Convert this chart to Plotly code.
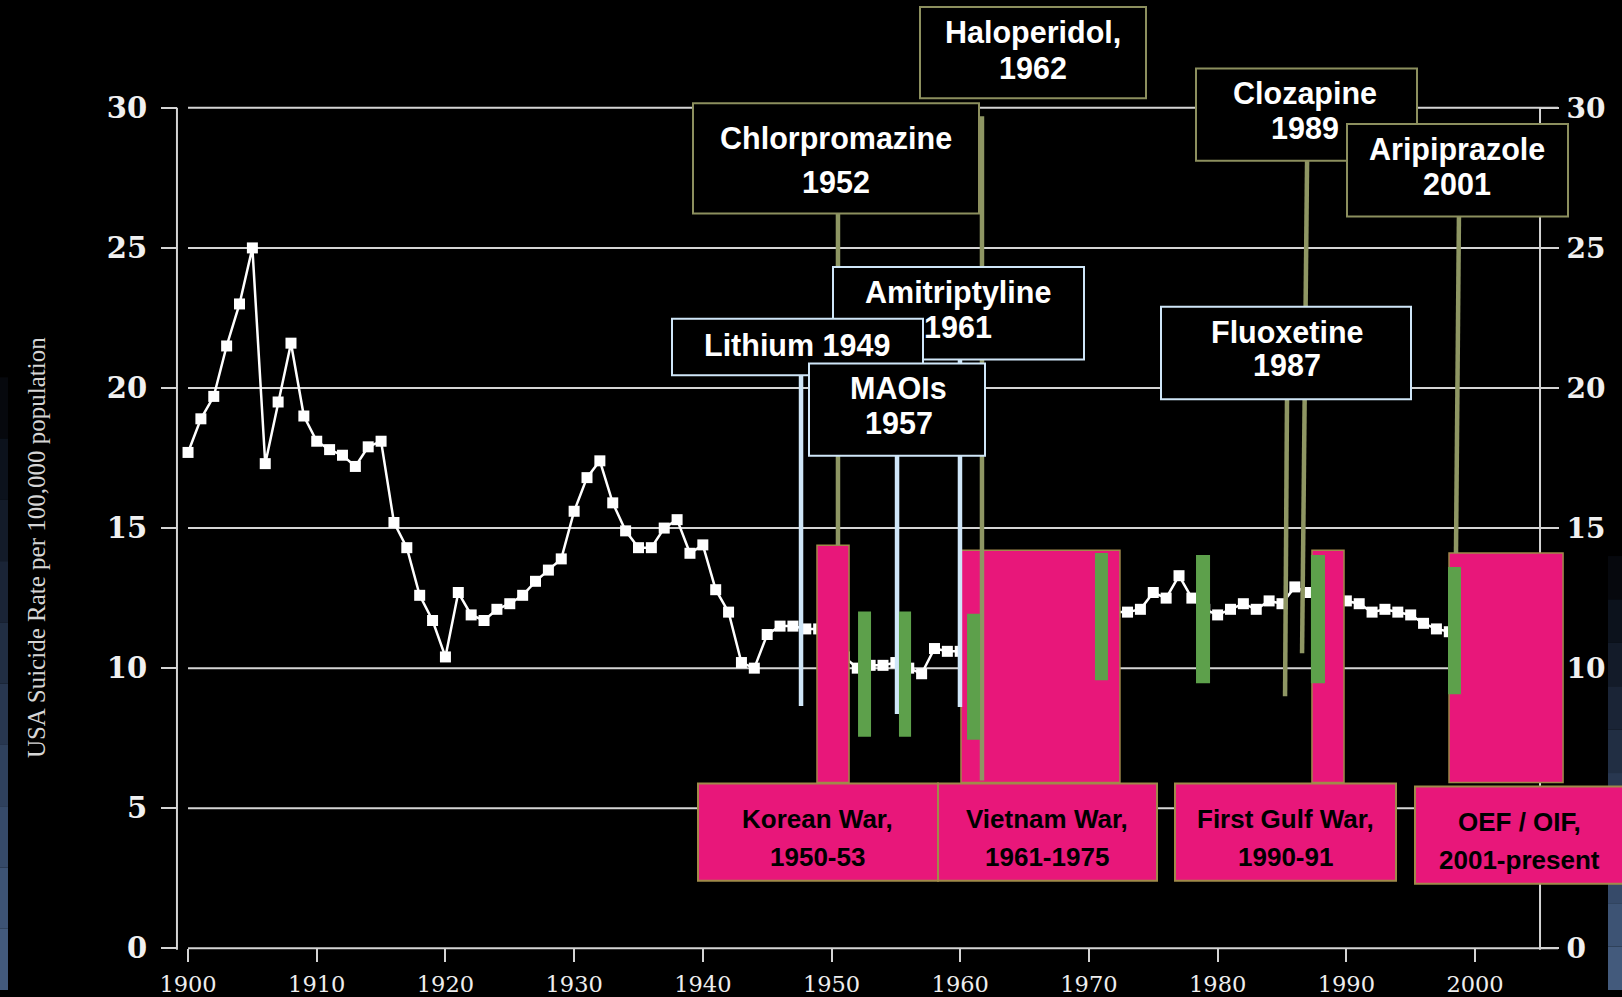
import plotly.graph_objects as go

# ---------------- data ----------------
years = list(range(1900, 2000))
rate = [17.7, 18.9, 19.7, 21.5, 23.0, 25.0, 17.3, 19.5, 21.6, 19.0,
        18.1, 17.8, 17.6, 17.2, 17.9, 18.1, 15.2, 14.3, 12.6, 11.7,
        10.4, 12.7, 11.9, 11.7, 12.1, 12.3, 12.6, 13.1, 13.5, 13.9,
        15.6, 16.8, 17.4, 15.9, 14.9, 14.3, 14.3, 15.0, 15.3, 14.1,
        14.4, 12.8, 12.0, 10.2, 10.0, 11.2, 11.5, 11.5, 11.4, 11.4,
        11.4, 10.4, 10.0, 10.1, 10.1, 10.2, 10.0, 9.8, 10.7, 10.6,
        10.6, 10.4, 10.9, 11.0, 10.8, 11.1, 10.9, 10.8, 10.7, 11.1,
        11.6, 11.7, 12.0, 12.0, 12.1, 12.7, 12.5, 13.3, 12.5, 12.1,
        11.9, 12.1, 12.3, 12.1, 12.4, 12.3, 12.9, 12.7, 12.4, 12.2,
        12.4, 12.3, 12.0, 12.1, 12.0, 11.9, 11.6, 11.4, 11.3, 10.7]

y_ticks = [0, 5, 10, 15, 20, 25, 30]
y_ticks_right = [0, 10, 15, 20, 25, 30]   # the 5 is hidden behind the OEF box
x_ticks = [1900, 1910, 1920, 1930, 1940, 1950, 1960, 1970, 1980, 1990, 2000]

# war periods (as drawn on the slide)
war_names = ["Korean War,", "Vietnam War,", "First Gulf War,", "OEF / OIF,"]
war_periods = ["1950-53", "1961-1975", "1990-91", "2001-present"]
war_start = [1948.87, 1960.06, 1987.33, 1997.98]
war_end = [1951.36, 1972.41, 1989.82, 2006.84]
war_top = [14.39, 14.21, 14.21, 14.11]
war_bottom = [5.92, 5.92, 5.92, 5.92]

# green markers
green_start = [1952.06, 1955.24, 1960.53, 1970.47, 1978.32, 1987.25, 1997.90]
green_end = [1953.07, 1956.18, 1961.54, 1971.48, 1979.41, 1988.34, 1998.91]
green_top = [12.02, 12.02, 11.94, 14.11, 14.04, 14.04, 13.61]
green_bottom = [7.55, 7.55, 7.44, 9.57, 9.46, 9.46, 9.07]

# drug introductions
drug_names = ["Lithium", "Chlorpromazine", "MAOIs", "Amitriptyline",
              "Haloperidol,", "Fluoxetine", "Clozapine", "Aripiprazole"]
drug_years = ["1949", "1952", "1957", "1961", "1962", "1987", "1989", "2001"]
drug_line_x_top = [1947.63, 1950.50, 1955.09, 1959.98, 1961.69, 1985.39, 1986.95, 1998.75]
drug_line_x_bottom = [1947.63, 1950.50, 1955.09, 1959.98, 1961.69, 1985.24, 1986.56, 1998.52]
drug_line_top = [20.45, 26.23, 17.58, 21.02, 29.70, 19.60, 28.11, 26.12]
drug_line_bottom = [8.65, 14.39, 8.36, 8.61, 5.99, 9.00, 10.53, 14.11]

# ---------------- styles / layout geometry ----------------
W, H = 1622, 997
BG = "#000000"
PINK = "#E8177A"
PINK_EDGE = "#A08A4A"
GREEN = "#5DA04B"
OLIVE = "#8E9663"
OLIVE_EDGE = "#8C8F5E"
LBLUE = "#CFE6F8"
GRID = "#D4D4D4"
SANS = "Liberation Sans, Arial, sans-serif"

# pixel <-> data mapping (axes span the whole figure)
X0, X1 = 1885.39, 1885.39 + W / 12.87
Y0, Y1 = -42.0 / 28.213, 955.0 / 28.213
AX_LEFT, AX_RIGHT, GRID_END = 1899.14, 2005.05, 2006.45

line_colors = {"Lithium": LBLUE, "Chlorpromazine": OLIVE, "MAOIs": LBLUE,
               "Amitriptyline": LBLUE, "Haloperidol,": OLIVE, "Fluoxetine": OLIVE,
               "Clozapine": OLIVE, "Aripiprazole": OLIVE}
box_colors = {"Lithium": LBLUE, "Chlorpromazine": OLIVE_EDGE, "MAOIs": LBLUE,
              "Amitriptyline": LBLUE, "Haloperidol,": OLIVE_EDGE, "Fluoxetine": LBLUE,
              "Clozapine": OLIVE_EDGE, "Aripiprazole": OLIVE_EDGE}
# callout boxes in pixels: x0, x1, y0, y1, text centre x, line centre ys
callouts = [
    ("Haloperidol,", 920, 1146, 7, 99, 1033, [33, 68]),
    ("Chlorpromazine", 693, 979, 104, 215, 836, [139, 183]),
    ("Clozapine", 1196, 1417, 69, 162, 1305, [94, 129]),
    ("Aripiprazole", 1347, 1568, 125, 218, 1457, [151, 185]),
    ("Amitriptyline", 833, 1084, 269, 362, 958, [295, 329]),
    ("Fluoxetine", 1161, 1411, 309, 402, 1287, [334, 368]),
    ("Lithium", 672, 923, 321, 378, 797, [347]),
    ("MAOIs", 809, 985, 366, 459, 899, [391, 426]),
]
war_boxes = [(698, 938, 789, 887, 817, [825, 863]),
             (938, 1157, 789, 887, 1047, [825, 863]),
             (1175, 1396, 789, 887, 1285, [825, 863]),
             (1415, 1630, 792, 890, 1519, [828, 866])]


def px(x):
    return x / W


def py(y):
    return 1 - y / H


shapes = []
annotations = []

# background strips of the slide
strip_cols = ["#06080d", "#0c121c", "#131b29", "#1a2436", "#212e43", "#283750",
              "#2f415d", "#364a69", "#3d5374", "#435a7c"]
for i, c in enumerate(strip_cols):
    ya = 380 + i * (H - 380) / len(strip_cols)
    yb = 380 + (i + 1) * (H - 380) / len(strip_cols)
    shapes.append(dict(type="rect", xref="paper", yref="paper", x0=0, x1=px(8),
                       y0=py(yb), y1=py(ya), fillcolor=c, line_width=0, layer="below"))
for i, c in enumerate(strip_cols):
    ya = 560 + i * (H - 560) / len(strip_cols)
    yb = 560 + (i + 1) * (H - 560) / len(strip_cols)
    shapes.append(dict(type="rect", xref="paper", yref="paper", x0=px(1608), x1=1,
                       y0=py(yb), y1=py(ya), fillcolor=c, line_width=0, layer="below"))

# gridlines
for v in y_ticks:
    shapes.append(dict(type="line", xref="x", yref="y", x0=1900, x1=GRID_END, y0=v, y1=v,
                       line=dict(color=GRID, width=2), layer="below"))
# axis lines
for xa in (AX_LEFT, AX_RIGHT):
    shapes.append(dict(type="line", xref="x", yref="y", x0=xa, x1=xa, y0=-0.05, y1=30,
                       line=dict(color=GRID, width=2), layer="below"))

# war bars
for s, e, t, b in zip(war_start, war_end, war_top, war_bottom):
    shapes.append(dict(type="rect", xref="x", yref="y", x0=s, x1=e, y0=b, y1=t,
                       fillcolor=PINK, line=dict(color=PINK_EDGE, width=1.5), layer="above"))
# drug lines
for n, xt, xb, t, b in zip(drug_names, drug_line_x_top, drug_line_x_bottom,
                           drug_line_top, drug_line_bottom):
    shapes.append(dict(type="line", xref="x", yref="y", x0=xt, x1=xb, y0=t, y1=b,
                       line=dict(color=line_colors[n], width=4.5), layer="above"))
# green bars
for s, e, t, b in zip(green_start, green_end, green_top, green_bottom):
    shapes.append(dict(type="rect", xref="x", yref="y", x0=s, x1=e, y0=b, y1=t,
                       fillcolor=GREEN, line_width=0, layer="above"))

# war label boxes
for (x0, x1, y0, y1, tx, tys), n, p in zip(war_boxes, war_names, war_periods):
    shapes.append(dict(type="rect", xref="paper", yref="paper", x0=px(x0), x1=px(x1),
                       y0=py(y1), y1=py(y0), fillcolor=PINK,
                       line=dict(color=PINK_EDGE, width=2), layer="above"))
    fnt = dict(family=SANS, size=26, color="#000000", weight=700)
    for txt, ty in zip([n, p], tys):
        annotations.append(dict(xref="paper", yref="paper", x=px(tx), y=py(ty), text=txt,
                                showarrow=False, xanchor="center", yanchor="middle", font=fnt))

# drug callout boxes
lookup = dict(zip(drug_names, drug_years))
for n, x0, x1, y0, y1, tx, tys in callouts:
    shapes.append(dict(type="rect", xref="paper", yref="paper", x0=px(x0), x1=px(x1),
                       y0=py(y1), y1=py(y0), fillcolor="#000000",
                       line=dict(color=box_colors[n], width=2), layer="above"))
    lines = [n + " " + lookup[n]] if len(tys) == 1 else [n, lookup[n]]
    for txt, ty in zip(lines, tys):
        annotations.append(dict(xref="paper", yref="paper", x=px(tx), y=py(ty), text=txt,
                                showarrow=False, xanchor="center", yanchor="middle",
                                font=dict(family=SANS, size=30.5, color="#ffffff", weight=700)))

# y-axis title
annotations.append(dict(xref="paper", yref="paper", x=px(36), y=py(552),
                        text="USA Suicide Rate per 100,000 population", textangle=-90,
                        showarrow=False, xanchor="center", yanchor="middle",
                        font=dict(family="Liberation Serif, Times New Roman, serif",
                                  size=25, color="#d6d6d6")))

fig = go.Figure()
fig.add_trace(go.Scatter(x=years, y=rate, mode="lines+markers",
                         line=dict(color="#ffffff", width=2.5),
                         marker=dict(symbol="square", size=11, color="#ffffff"),
                         showlegend=False, hoverinfo="skip"))
fig.add_trace(go.Scatter(x=[1950], y=[-10], yaxis="y2", mode="markers",
                         marker=dict(opacity=0), showlegend=False, hoverinfo="skip"))

fig.update_layout(
    width=W, height=H,
    margin=dict(l=0, r=0, t=0, b=0),
    paper_bgcolor=BG, plot_bgcolor="rgba(0,0,0,0)",
    showlegend=False,
    xaxis=dict(range=[X0, X1], domain=[0, 1], anchor="free", position=42.0 / H,
               tickvals=x_ticks, ticks="outside", ticklen=13, tickwidth=2,
               tickcolor=GRID, showgrid=False, zeroline=False, showline=False,
               tickfont=dict(family="DejaVu Serif", size=22.5, color="#eeeeee"),
               ticklabelstandoff=3),
    yaxis=dict(range=[Y0, Y1], domain=[0, 1], anchor="free", position=177.0 / W,
               tickvals=y_ticks, ticks="outside", ticklen=16, tickwidth=2,
               tickcolor=GRID, showgrid=False, zeroline=False, showline=False,
               tickfont=dict(family="DejaVu Serif", size=29, color="#f0f0f0", weight=700),
               ticklabelstandoff=8),
    yaxis2=dict(range=[Y0, Y1], overlaying="y", side="right", anchor="free",
                position=1540.0 / W, tickvals=y_ticks_right, ticks="outside", ticklen=18,
                tickwidth=2, tickcolor=GRID, showgrid=False, zeroline=False,
                showline=False,
                tickfont=dict(family="DejaVu Serif", size=28, color="#f0f0f0", weight=700),
                ticklabelstandoff=2),
    shapes=shapes,
    annotations=annotations,
)

fig.write_html("out.html",
               config={"displayModeBar": False},
               post_script="document.body.style.margin='0';"
                           "document.body.style.background='#000';"
                           "document.documentElement.style.overflow='hidden';")
